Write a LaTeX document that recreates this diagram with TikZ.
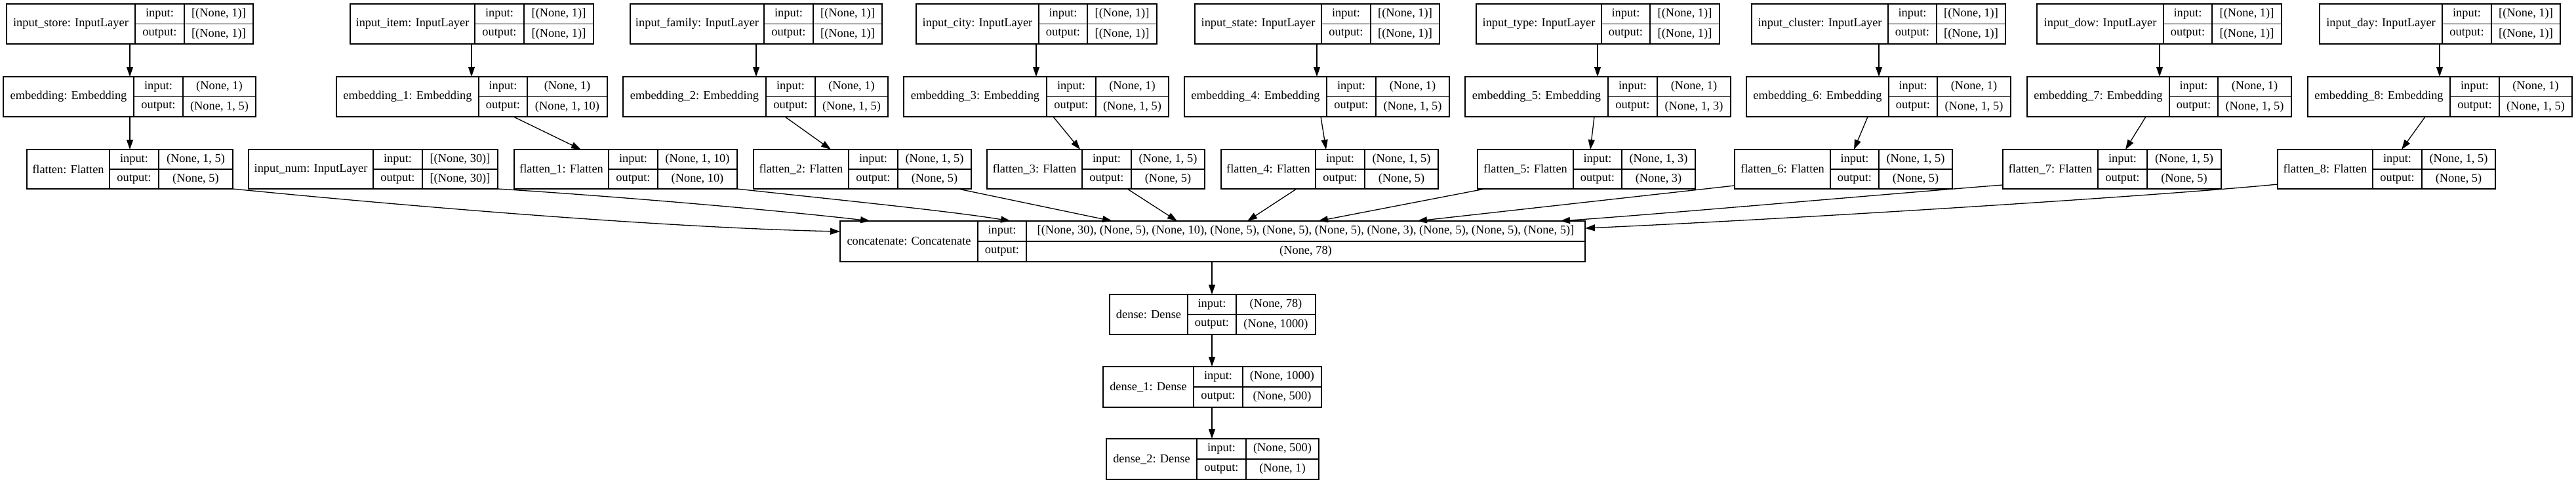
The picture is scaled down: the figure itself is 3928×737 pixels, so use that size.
\documentclass[tikz,border=0pt]{standalone}
\usepackage{fontspec}
\setmainfont{Liberation Serif}
\usetikzlibrary{arrows.meta}
\tikzset{
  box/.style={draw, line width=1.4pt, inner sep=0pt, outer sep=0pt, rectangle},
  sep/.style={line width=1.4pt},
  txt/.style={inner sep=0pt, font=\fontsize{18.4}{22}\selectfont},
  arr/.style={-{Triangle[length=15pt,width=10pt]}, line width=1.3pt}
}
% name, xL, d1, d2, xR, label, in value, out value ; rows use \yT and \yB
\newcommand\recbox[8]{%
  \pgfmathsetmacro\ym{(\yT+\yB)/2}%
  \pgfmathsetmacro\yi{(3*\yT+\yB)/4}%
  \pgfmathsetmacro\yo{(\yT+3*\yB)/4}%
  \node[box, minimum width={(#5-#2)*1pt}, minimum height={(\yB-\yT)*1pt}] (#1) at ({(#2+#5)/2},\ym) {};
  \draw[sep] (#1.north -| #3,0) -- (#1.south -| #3,0);
  \draw[sep] (#1.north -| #4,0) -- (#1.south -| #4,0);
  \draw[sep] (#3,\ym) -- (#1.east |- 0,\ym);
  \node[txt] (#1-n) at ({(#2+#3)/2},\ym) {#6};
  \node[txt] (#1-a) at ({(#3+#4)/2},\yi) {input:};
  \node[txt] (#1-b) at ({(#3+#4)/2},\yo) {output:};
  \node[txt] (#1-c) at ({(#4+#5)/2},\yi) {#7};
  \node[txt] (#1-d) at ({(#4+#5)/2},\yo) {#8};
}
\begin{document}
\begin{tikzpicture}[x=1pt,y=-1pt]
\fill[white] (0,0) rectangle (3928,737);
\useasboundingbox (0,0) rectangle (3928,737);

% ---- row 1: inputs
\def\yT{6}\def\yB{67}
\recbox{store}{10}{206}{281}{386}{input\_store: InputLayer}{[(None, 1)]}{[(None, 1)]}
\recbox{item}{534}{724}{799}{905}{input\_item: InputLayer}{[(None, 1)]}{[(None, 1)]}
\recbox{family}{961}{1165}{1240}{1345}{input\_family: InputLayer}{[(None, 1)]}{[(None, 1)]}
\recbox{city}{1397}{1584}{1658}{1764}{input\_city: InputLayer}{[(None, 1)]}{[(None, 1)]}
\recbox{state}{1822}{2015}{2090}{2195}{input\_state: InputLayer}{[(None, 1)]}{[(None, 1)]}
\recbox{type}{2251}{2442}{2516}{2622}{input\_type: InputLayer}{[(None, 1)]}{[(None, 1)]}
\recbox{cluster}{2671}{2879}{2953}{3058}{input\_cluster: InputLayer}{[(None, 1)]}{[(None, 1)]}
\recbox{dow}{3106}{3299}{3373}{3479}{input\_dow: InputLayer}{[(None, 1)]}{[(None, 1)]}
\recbox{day}{3537}{3724}{3799}{3904}{input\_day: InputLayer}{[(None, 1)]}{[(None, 1)]}

% ---- row 2: embeddings
\def\yT{117}\def\yB{178}
\recbox{emb0}{5}{204}{279}{390}{embedding: Embedding}{(None, 1)}{(None, 1, 5)}
\recbox{emb1}{513}{730}{804}{926}{embedding\_1: Embedding}{(None, 1)}{(None, 1, 10)}
\recbox{emb2}{950}{1168}{1243}{1354}{embedding\_2: Embedding}{(None, 1)}{(None, 1, 5)}
\recbox{emb3}{1378}{1596}{1671}{1782}{embedding\_3: Embedding}{(None, 1)}{(None, 1, 5)}
\recbox{emb4}{1806}{2023}{2098}{2210}{embedding\_4: Embedding}{(None, 1)}{(None, 1, 5)}
\recbox{emb5}{2234}{2452}{2527}{2639}{embedding\_5: Embedding}{(None, 1)}{(None, 1, 3)}
\recbox{emb6}{2663}{2880}{2954}{3066}{embedding\_6: Embedding}{(None, 1)}{(None, 1, 5)}
\recbox{emb7}{3091}{3308}{3382}{3494}{embedding\_7: Embedding}{(None, 1)}{(None, 1, 5)}
\recbox{emb8}{3519}{3736}{3811}{3922}{embedding\_8: Embedding}{(None, 1)}{(None, 1, 5)}

% ---- row 3: flatten + input_num
\def\yT{228}\def\yB{288}
\recbox{fl0}{41}{167}{242}{355}{flatten: Flatten}{(None, 1, 5)}{(None, 5)}
\recbox{num}{379}{569}{644}{759}{input\_num: InputLayer}{[(None, 30)]}{[(None, 30)]}
\recbox{fl1}{784}{928}{1003}{1124}{flatten\_1: Flatten}{(None, 1, 10)}{(None, 10)}
\recbox{fl2}{1149}{1294}{1369}{1481}{flatten\_2: Flatten}{(None, 1, 5)}{(None, 5)}
\recbox{fl3}{1505}{1650}{1725}{1837}{flatten\_3: Flatten}{(None, 1, 5)}{(None, 5)}
\recbox{fl4}{1862}{2006}{2081}{2193}{flatten\_4: Flatten}{(None, 1, 5)}{(None, 5)}
\recbox{fl5}{2253}{2399}{2473}{2585}{flatten\_5: Flatten}{(None, 1, 3)}{(None, 3)}
\recbox{fl6}{2645}{2791}{2865}{2977}{flatten\_6: Flatten}{(None, 1, 5)}{(None, 5)}
\recbox{fl7}{3054}{3199}{3274}{3387}{flatten\_7: Flatten}{(None, 1, 5)}{(None, 5)}
\recbox{fl8}{3473}{3618}{3693}{3805}{flatten\_8: Flatten}{(None, 1, 5)}{(None, 5)}

% ---- concatenate
\def\yT{337}\def\yB{399}
\recbox{cat}{1281}{1491}{1565}{2417}{concatenate: Concatenate}{[(None, 30), (None, 5), (None, 10), (None, 5), (None, 5), (None, 5), (None, 3), (None, 5), (None, 5), (None, 5)]}{(None, 78)}

% ---- dense layers
\def\yT{449}\def\yB{510}
\recbox{d0}{1692}{1811}{1885}{2006}{dense: Dense}{(None, 78)}{(None, 1000)}
\def\yT{559}\def\yB{621}
\recbox{d1}{1682}{1820}{1895}{2015}{dense\_1: Dense}{(None, 1000)}{(None, 500)}
\def\yT{669}\def\yB{731}
\recbox{d2}{1687}{1825}{1900}{2011}{dense\_2: Dense}{(None, 500)}{(None, 1)}

% ---- edges: inputs -> embeddings
\draw[arr] (store.south -| 198,0) -- (emb0.north -| 198,0);
\draw[arr] (item.south -| 719,0) -- (emb1.north -| 719,0);
\draw[arr] (family.south -| 1153,0) -- (emb2.north -| 1153,0);
\draw[arr] (city.south -| 1580,0) -- (emb3.north -| 1580,0);
\draw[arr] (state.south -| 2008,0) -- (emb4.north -| 2008,0);
\draw[arr] (type.south -| 2436,0) -- (emb5.north -| 2436,0);
\draw[arr] (cluster.south -| 2865,0) -- (emb6.north -| 2865,0);
\draw[arr] (dow.south -| 3293,0) -- (emb7.north -| 3293,0);
\draw[arr] (day.south -| 3720,0) -- (emb8.north -| 3720,0);

% ---- edges: embeddings -> flatten
\draw[arr] (emb0.south -| 198,0) -- (fl0.north -| 198,0);
\draw[arr] (emb1.south -| 783,0) -- (fl1.north -| 886,0);
\draw[arr] (emb2.south -| 1197,0) -- (fl2.north -| 1267,0);
\draw[arr] (emb3.south -| 1606,0) -- (fl3.north -| 1647,0);
\draw[arr] (emb4.south -| 2014,0) -- (fl4.north -| 2022,0);
\draw[arr] (emb5.south -| 2431,0) -- (fl5.north -| 2425,0);
\draw[arr] (emb6.south -| 2848,0) -- (fl6.north -| 2827,0);
\draw[arr] (emb7.south -| 3272,0) -- (fl7.north -| 3241,0);
\draw[arr] (emb8.south -| 3698,0) -- (fl8.north -| 3662,0);

% ---- edges: flatten -> concatenate
\draw[arr] (fl0.south east) .. controls (700,322) and (1050,348) .. (cat.west |- 0,353);
\draw[arr] (num.south east) .. controls (950,300) and (1200,322) .. (cat.north -| 1327,0);
\draw[arr] (fl1.south east) .. controls (1280,305) and (1450,322) .. (cat.north -| 1541,0);
\draw[arr] (fl2.south -| 1461,0) -- (cat.north -| 1696,0);
\draw[arr] (fl3.south -| 1719,0) -- (cat.north -| 1795,0);
\draw[arr] (fl4.south -| 1977,0) -- (cat.north -| 1902,0);
\draw[arr] (fl5.south -| 2264,0) -- (cat.north -| 2010,0);
\draw[arr] (fl6.west |- 0,283) -- (cat.north -| 2161,0);
\draw[arr] (fl7.west |- 0,282) .. controls (2850,298) and (2550,325) .. (cat.north -| 2379,0);
\draw[arr] (fl8.west |- 0,281) .. controls (3300,298) and (2750,333) .. (cat.east |- 0,348);

% ---- edges: dense chain
\draw[arr] (cat.south -| 1848,0) -- (d0.north -| 1848,0);
\draw[arr] (d0.south -| 1848,0) -- (d1.north -| 1848,0);
\draw[arr] (d1.south -| 1848,0) -- (d2.north -| 1848,0);
\end{tikzpicture}
\end{document}
